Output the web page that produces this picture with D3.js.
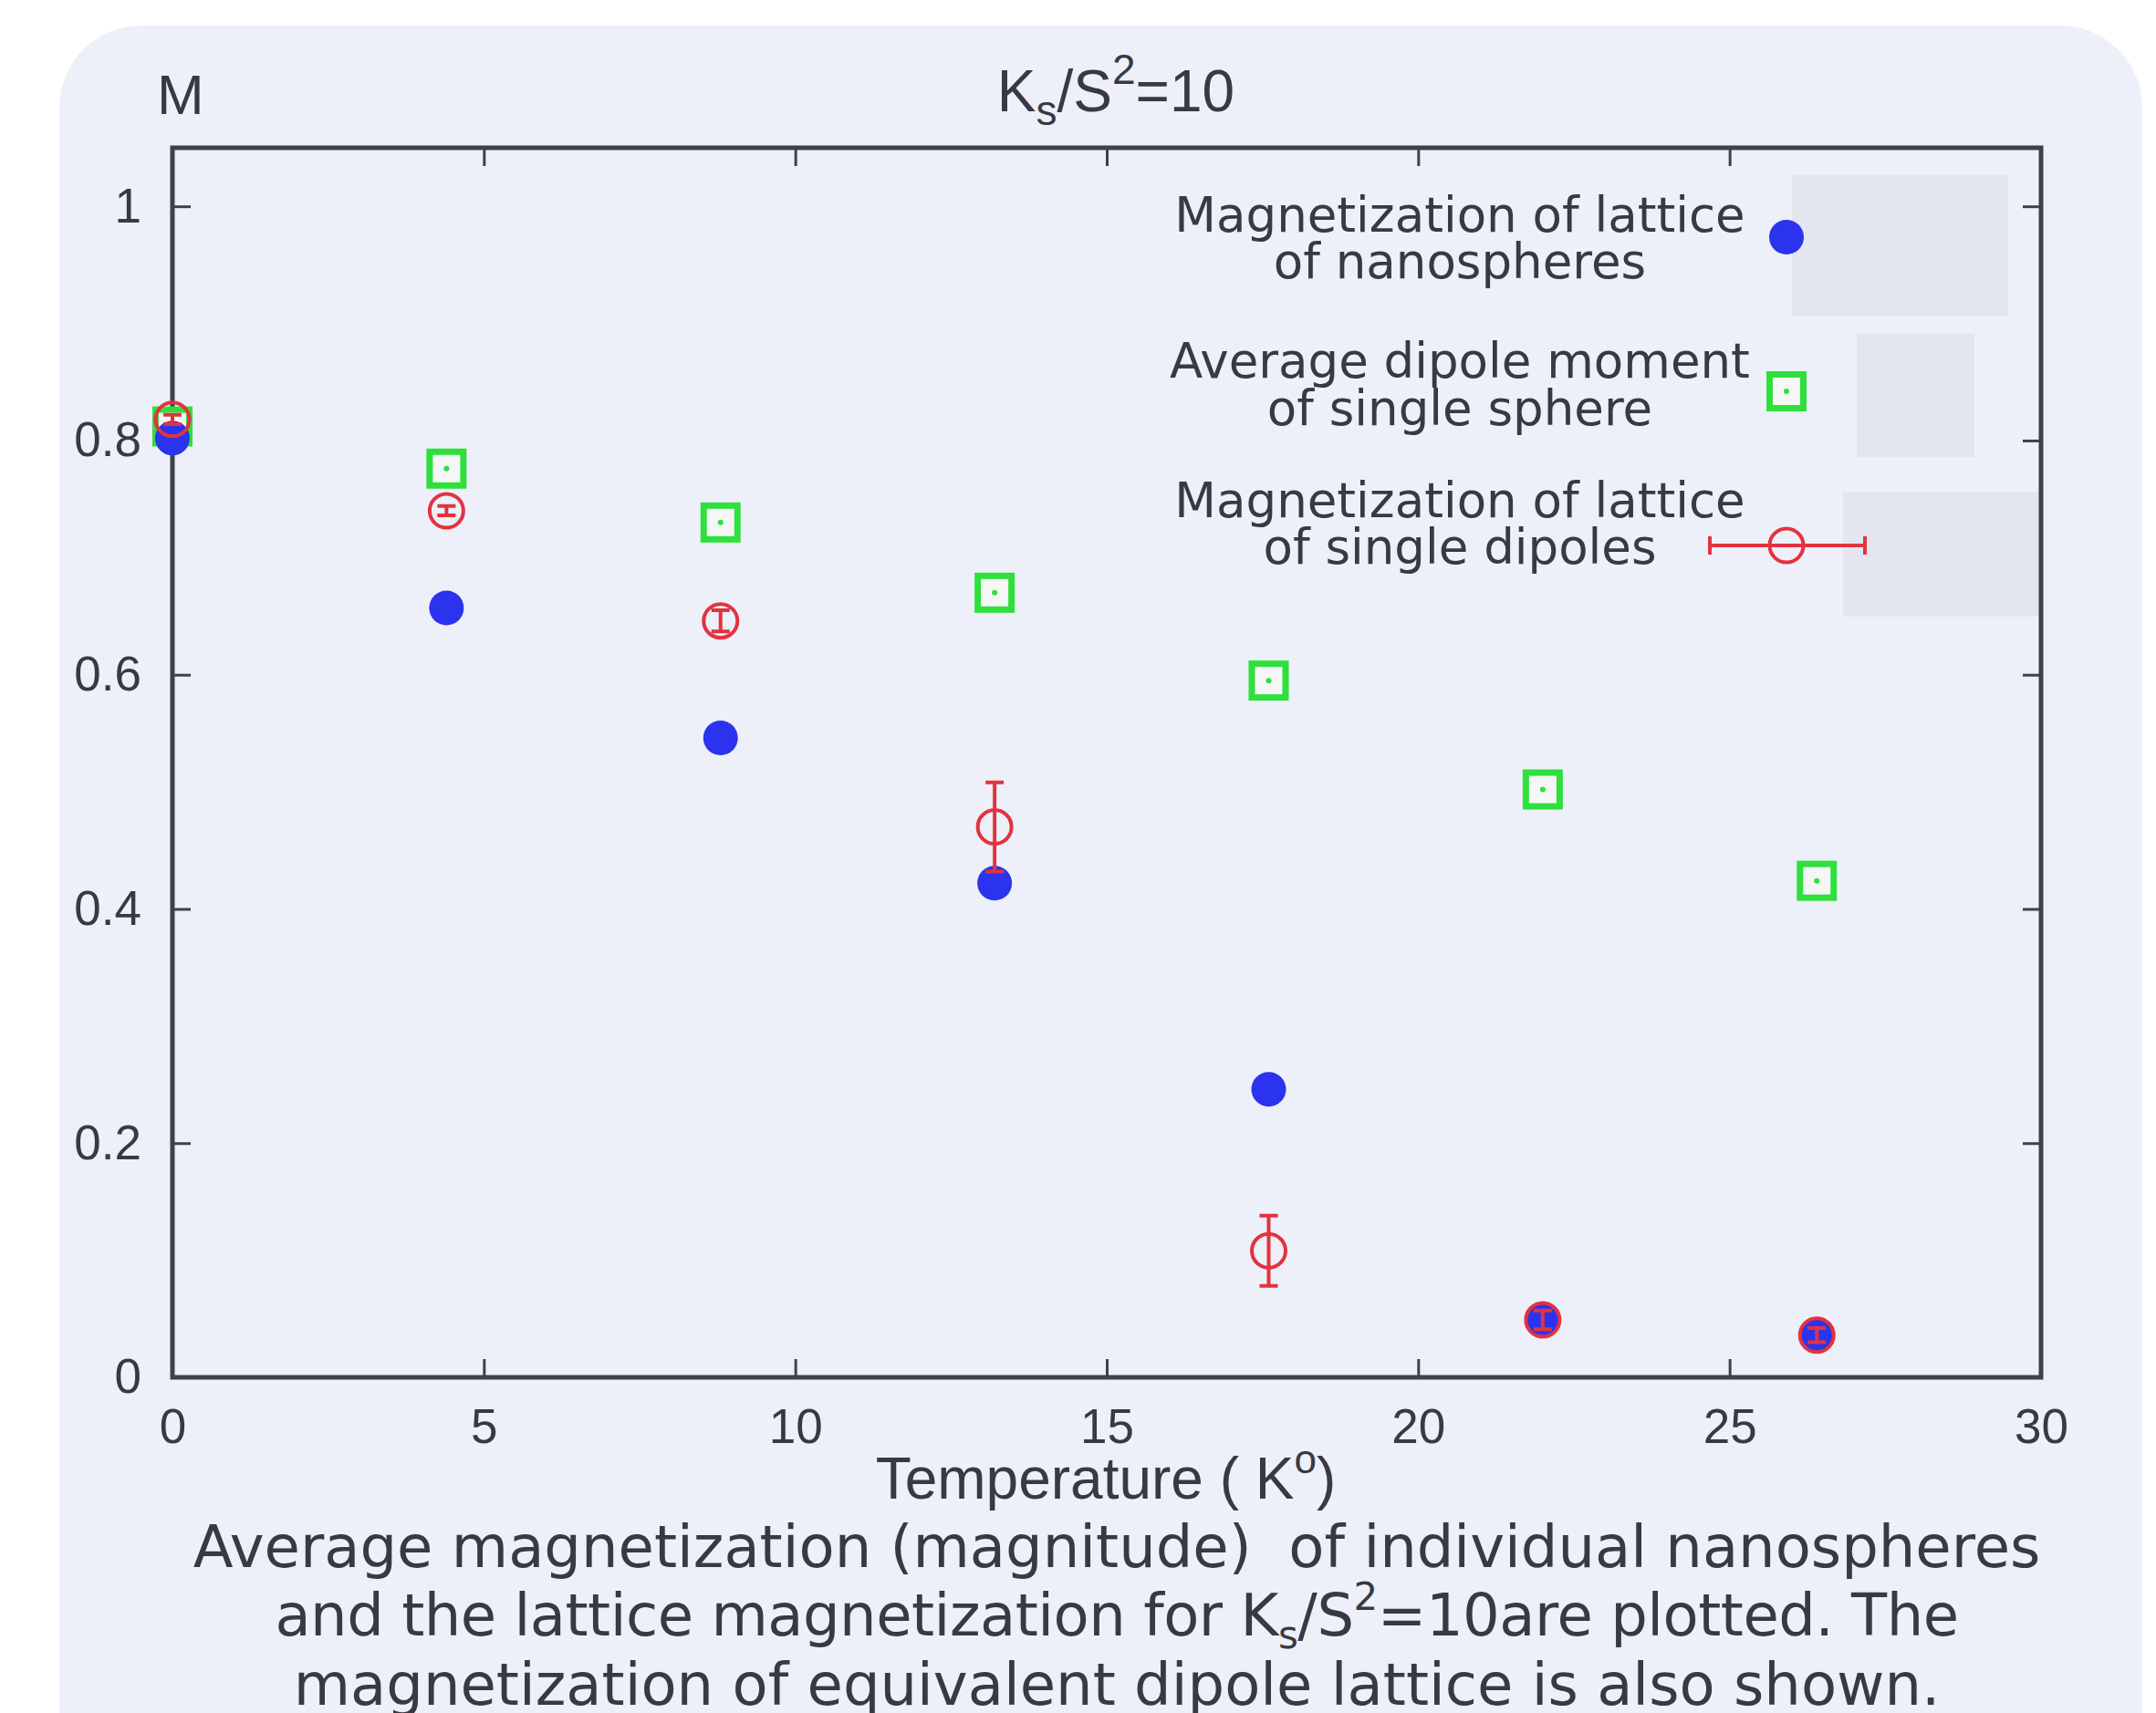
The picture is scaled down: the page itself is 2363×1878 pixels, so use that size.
<!DOCTYPE html>
<html>
<head>
<meta charset="utf-8">
<script src="https://cdn.jsdelivr.net/npm/d3@7"></script>
<style>
  body { margin: 0; background: #ffffff; }
  svg { display: block; }
</style>
</head>
<body>
<div id="chart"></div>
<script>
// data
const temperatures = [0, 4.4, 8.8, 13.2, 17.6, 22.0, 26.4];
const nanosphereM = [0.802, 0.657, 0.546, 0.422, 0.246, 0.049, 0.035];
const sphereDipole = [0.812, 0.776, 0.730, 0.670, 0.595, 0.502, 0.424];
const dipoleLatticeM = [0.818, 0.740, 0.646, 0.470, 0.108, 0.049, 0.036];
const dipoleLatticeErr = [0.004, 0.004, 0.009, 0.038, 0.030, 0.008, 0.006];
const xTicks = [0, 5, 10, 15, 20, 25, 30];
const yTicks = [0, 0.2, 0.4, 0.6, 0.8, 1];
const legendLabels = [
  ["Magnetization of lattice", "of nanospheres"],
  ["Average dipole moment", "of single sphere"],
  ["Magnetization of lattice", "of single dipoles"]
];

const w = 2363, h = 1878;
const plotL = 189, plotR = 2237, plotT = 162, plotB = 1510;
const textColor = "#383943";
const frameColor = "#3d414b";
const blue = "#2b33ee";
const green = "#2fe03c";
const red = "#e2333f";
const sansTick = "'Liberation Sans', Arial, sans-serif";
const sansText = "'DejaVu Sans', sans-serif";

const svg = d3.select("#chart")
              .append("svg")
              .attr("width", w)
              .attr("height", h);

// panel background
svg.append("rect")
   .attr("x", 65).attr("y", 28)
   .attr("width", 2283).attr("height", 1940)
   .attr("rx", 90).attr("ry", 90)
   .attr("fill", "#edf0f9");

const xScale = d3.scaleLinear().domain([0, 30]).range([plotL, plotR]);
const yScale = d3.scaleLinear().domain([0, 1.05]).range([plotB, plotT]);

// legend shading boxes (behind everything)
const boxes = [[1964, 192, 237, 154], [2035, 366, 129, 135], [2020, 539, 215, 137]];
svg.selectAll(".lbox")
   .data(boxes)
   .enter()
   .append("rect")
   .attr("class", "lbox")
   .attr("x", d => d[0]).attr("y", d => d[1])
   .attr("width", d => d[2]).attr("height", d => d[3])
   .attr("fill", "#e3e6ef");

// axes, ticks pointing inward
const xAxis = d3.axisBottom(xScale).tickValues(xTicks).tickSizeInner(-20).tickSizeOuter(0).tickPadding(34);
const yAxis = d3.axisLeft(yScale).tickValues(yTicks).tickSizeInner(-20).tickSizeOuter(0).tickPadding(34)
                .tickFormat(d3.format("~g"));
const xTop = d3.axisTop(xScale).tickValues(xTicks).tickSizeInner(-20).tickSizeOuter(0).tickFormat("");
const yRight = d3.axisRight(yScale).tickValues(yTicks).tickSizeInner(-20).tickSizeOuter(0).tickFormat("");

function styleAxis(g) {
  g.select(".domain").remove();
  g.selectAll(".tick line").attr("stroke", frameColor).attr("stroke-width", 3);
  g.selectAll(".tick text")
   .attr("fill", textColor)
   .style("font-family", sansTick)
   .style("font-size", "53px");
}

svg.append("g").attr("transform", `translate(0,${plotB})`).call(xAxis).call(styleAxis);
svg.append("g").attr("transform", `translate(${plotL},0)`).call(yAxis).call(styleAxis);
svg.append("g").attr("transform", `translate(0,${plotT})`).call(xTop).call(styleAxis);
svg.append("g").attr("transform", `translate(${plotR},0)`).call(yRight).call(styleAxis);

// frame
svg.append("rect")
   .attr("x", plotL).attr("y", plotT)
   .attr("width", plotR - plotL).attr("height", plotB - plotT)
   .attr("fill", "none")
   .attr("stroke", frameColor)
   .attr("stroke-width", 5);

// green squares: dipole moment of single sphere
const sq = 37;
svg.selectAll(".sq")
   .data(temperatures)
   .enter()
   .append("rect")
   .attr("class", "sq")
   .attr("x", d => xScale(d) - sq / 2)
   .attr("y", (d, i) => yScale(sphereDipole[i]) - sq / 2)
   .attr("width", sq).attr("height", sq)
   .attr("fill", "#f4f7f6")
   .attr("stroke", green)
   .attr("stroke-width", 7);
svg.selectAll(".sqdot")
   .data(temperatures)
   .enter()
   .append("circle")
   .attr("class", "sqdot")
   .attr("cx", d => xScale(d))
   .attr("cy", (d, i) => yScale(sphereDipole[i]))
   .attr("r", 3)
   .attr("fill", green);

// blue dots: lattice of nanospheres
svg.selectAll(".dot")
   .data(temperatures)
   .enter()
   .append("circle")
   .attr("class", "dot")
   .attr("cx", d => xScale(d))
   .attr("cy", (d, i) => yScale(nanosphereM[i]))
   .attr("r", 19)
   .attr("fill", blue);

// red open circles with error bars: lattice of single dipoles
const cap = 10;
const errG = svg.selectAll(".err")
   .data(temperatures)
   .enter()
   .append("g")
   .attr("class", "err")
   .attr("stroke", red)
   .attr("stroke-width", 4)
   .attr("fill", "none");
errG.append("path")
    .attr("d", (d, i) => {
      const x = xScale(d);
      const y0 = yScale(dipoleLatticeM[i] - dipoleLatticeErr[i]);
      const y1 = yScale(dipoleLatticeM[i] + dipoleLatticeErr[i]);
      return `M${x},${y0}V${y1}M${x - cap},${y0}H${x + cap}M${x - cap},${y1}H${x + cap}`;
    });
errG.append("circle")
    .attr("cx", d => xScale(d))
    .attr("cy", (d, i) => yScale(dipoleLatticeM[i]))
    .attr("r", 18.5);

// title and y label
svg.append("text")
   .attr("x", 172).attr("y", 125)
   .attr("fill", textColor)
   .style("font-family", sansTick)
   .style("font-size", "62px")
   .text("M");

const title = svg.append("text")
   .attr("x", 1223).attr("y", 122)
   .attr("text-anchor", "middle")
   .attr("fill", textColor)
   .style("font-family", sansTick)
   .style("font-size", "64px");
title.append("tspan").text("K");
title.append("tspan").attr("dy", 15).style("font-size", "46px").text("s");
title.append("tspan").attr("dy", -15).text("/S");
title.append("tspan").attr("dy", -30).style("font-size", "46px").text("2");
title.append("tspan").attr("dy", 30).text("=10");

// x label
const xlab = svg.append("text")
   .attr("x", 1212).attr("y", 1643)
   .attr("text-anchor", "middle")
   .attr("fill", textColor)
   .style("font-family", sansTick)
   .style("font-size", "64px");
xlab.append("tspan").text("Temperature ( K");
xlab.append("tspan").attr("dy", -28).style("font-size", "44px").text("o");
xlab.append("tspan").attr("dy", 28).text(")");

// legend
const legendX = 1600, markX = 1958;
const legendBase = [[254, 305], [414, 466], [567, 618]];
legendLabels.forEach((lines, k) => {
  lines.forEach((s, j) => {
    svg.append("text")
       .attr("x", legendX).attr("y", legendBase[k][j])
       .attr("text-anchor", "middle")
       .attr("fill", textColor)
       .style("font-family", sansText)
       .style("font-size", "53px")
       .text(s);
  });
});
svg.append("circle").attr("cx", markX).attr("cy", 260).attr("r", 19).attr("fill", blue);
svg.append("rect").attr("x", markX - sq / 2).attr("y", 429 - sq / 2)
   .attr("width", sq).attr("height", sq)
   .attr("fill", "#f4f7f6").attr("stroke", green).attr("stroke-width", 7);
svg.append("circle").attr("cx", markX).attr("cy", 429).attr("r", 3).attr("fill", green);
const lErr = svg.append("g").attr("stroke", red).attr("stroke-width", 4).attr("fill", "none");
lErr.append("path").attr("d", `M1874,598H2044M1874,588V608M2044,588V608`);
lErr.append("circle").attr("cx", markX).attr("cy", 598).attr("r", 18.5);

// caption
const capFont = "64px";
const capX = 1224;
svg.append("text")
   .attr("x", capX).attr("y", 1718)
   .attr("text-anchor", "middle")
   .attr("fill", textColor)
   .style("font-family", sansText)
   .style("font-size", capFont)
   .style("white-space", "pre")
   .text("Average magnetization (magnitude)  of individual nanospheres");
const cap2 = svg.append("text")
   .attr("x", capX).attr("y", 1793)
   .attr("text-anchor", "middle")
   .attr("fill", textColor)
   .style("font-family", sansText)
   .style("font-size", capFont)
   .style("letter-spacing", "-0.5px");
cap2.append("tspan").text("and the lattice magnetization for K");
cap2.append("tspan").attr("dy", 14).style("font-size", "42px").text("s");
cap2.append("tspan").attr("dy", -14).text("/S");
cap2.append("tspan").attr("dy", -28).style("font-size", "42px").text("2");
cap2.append("tspan").attr("dy", 28).text("=10are plotted. The");
svg.append("text")
   .attr("x", capX).attr("y", 1869)
   .attr("text-anchor", "middle")
   .attr("fill", textColor)
   .style("font-family", sansText)
   .style("font-size", capFont)
   .text("magnetization of equivalent dipole lattice is also shown.");
</script>
</body>
</html>
